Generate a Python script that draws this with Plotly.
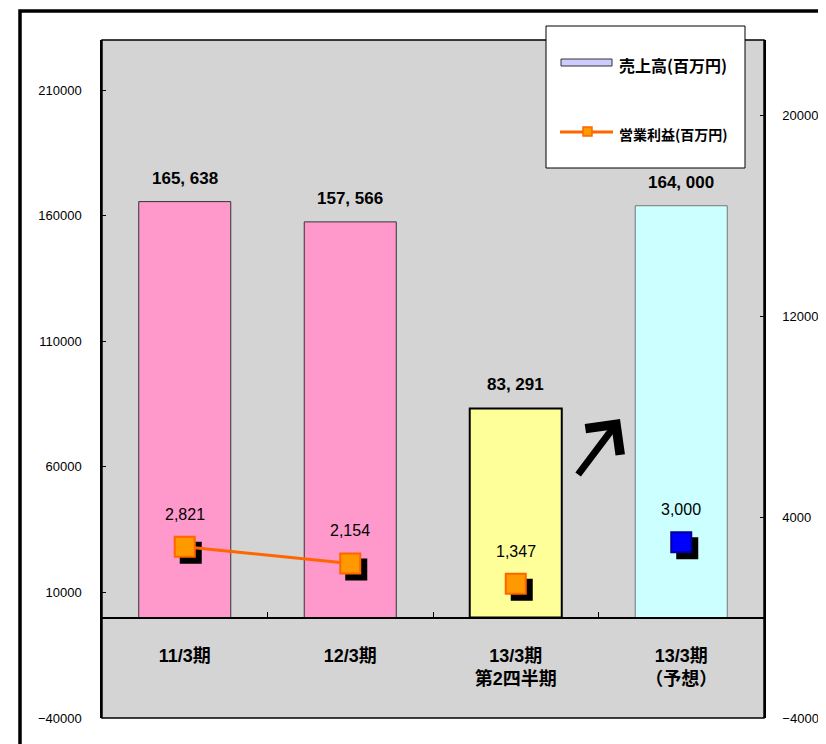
import plotly.graph_objects as go

# ---------------- data ----------------
categories = ["11/3期", "12/3期", "13/3期<br>第2四半期", "13/3期<br>（予想）"]
sales = [165638, 157566, 83291, 164000]          # 売上高(百万円)
profit = [2821, 2154, 1347, 3000]                 # 営業利益(百万円)
sales_name = "売上高(百万円)"
profit_name = "営業利益(百万円)"
left_range = [-40000, 230000]
right_range = [-4000, 23000]

bar_colors = ["#FF99CC", "#FF99CC", "#FFFF99", "#CCFFFF"]
bar_line_colors = ["#333333", "#333333", "#000000", "#777777"]
bar_line_widths = [1, 1, 2, 1]

OFF = 8  # page body margin
W, H = 826 - OFF, 744 - OFF
# plot area in page pixels: x 102..764, y 40..718 ; extra shadow band of SH px
SH = 6
ML, MT = 102 - OFF, 40 - OFF
PW, PH = 662 + SH, 678 + SH
MR, MB = W - ML - PW, H - MT - PH

def px(p):
    return (p - OFF - ML) / PW

def py(p):
    return 1 - (p - OFF - MT) / PH

main_xd = [0, (PW - SH) / PW]
main_yd = [SH / PH, 1]
shadow_xd = [SH / PW, 1]
shadow_yd = [0, (PH - SH) / PH]

zero_pos = main_yd[0] + (main_yd[1] - main_yd[0]) * (0 - left_range[0]) / (left_range[1] - left_range[0])

num_font = "Liberation Sans, Arial, sans-serif"
bold_num_font = "Liberation Sans, Noto Sans CJK JP, sans-serif"
cjk_font = "Noto Sans CJK JP, sans-serif"

fig = go.Figure()

# bars
fig.add_trace(go.Bar(
    x=categories, y=sales, name=sales_name, width=0.556,
    marker=dict(color=bar_colors, line=dict(color=bar_line_colors, width=bar_line_widths)),
    xaxis="x", yaxis="y", showlegend=False, hoverinfo="skip",
))

# marker shadows
fig.add_trace(go.Scatter(
    x=categories, y=profit, mode="markers",
    marker=dict(symbol="square", size=20, color="black", line=dict(color="black", width=2)),
    xaxis="x2", yaxis="y2", showlegend=False, hoverinfo="skip",
))

# profit line + markers (first two connected)
fig.add_trace(go.Scatter(
    x=categories[:2], y=profit[:2], mode="lines+markers", name=profit_name,
    line=dict(color="#FF6600", width=3),
    marker=dict(symbol="square", size=20, color="#FF9900", line=dict(color="#FF6600", width=2)),
    xaxis="x3", yaxis="y3", showlegend=False,
))
fig.add_trace(go.Scatter(
    x=categories[2:], y=profit[2:], mode="markers",
    marker=dict(symbol="square", size=20, color=["#FF9900", "#0000FF"],
                line=dict(color=["#FF6600", "#000099"], width=2)),
    xaxis="x3", yaxis="y3", showlegend=False,
))

annotations = []
# bar value labels
for c, v in zip(categories, sales):
    annotations.append(dict(
        x=c, y=v, xref="x", yref="y", text=f"{v:,}".replace(",", ", "),
        showarrow=False, yanchor="bottom", yshift=12,
        font=dict(family=bold_num_font, size=17, color="black", weight=700),
    ))
# profit labels
for c, v in zip(categories, profit):
    annotations.append(dict(
        x=c, y=v, xref="x3", yref="y3", text=f"{v:,}",
        showarrow=False, yanchor="bottom", yshift=22,
        font=dict(family=num_font, size=16, color="black"),
    ))
# arrow
annotations.append(dict(
    x=px(620), y=py(419), xref="paper", yref="paper", ax=-43, ay=57,
    showarrow=True, arrowhead=4, arrowsize=1.2, arrowwidth=7, arrowcolor="black", text="",
))
# legend texts
annotations.append(dict(
    x=px(617), y=py(65), xref="paper", yref="paper", text=sales_name, showarrow=False,
    xanchor="left", yanchor="middle",
    font=dict(family=cjk_font, size=16, color="black", weight=700),
))
annotations.append(dict(
    x=px(617), y=py(134), xref="paper", yref="paper", text=profit_name, showarrow=False,
    xanchor="left", yanchor="middle",
    font=dict(family=cjk_font, size=14, color="black", weight=700),
))

shapes = [
    # plot background
    dict(type="rect", xref="x domain", yref="y domain", x0=0, x1=1, y0=0, y1=1,
         fillcolor="#D4D4D4", line=dict(color="black", width=1.5), layer="below"),
    # outer frame
    dict(type="rect", xref="paper", yref="paper", x0=px(20), x1=px(900), y0=py(11), y1=py(900),
         fillcolor="rgba(0,0,0,0)", line=dict(color="black", width=3.5), layer="below"),
    # legend box
    dict(type="rect", xref="paper", yref="paper", x0=px(546), x1=px(745), y0=py(26), y1=py(168),
         fillcolor="white", line=dict(color="black", width=1), layer="above"),
    # legend symbol 1
    dict(type="rect", xref="paper", yref="paper", x0=px(561), x1=px(612), y0=py(59), y1=py(66),
         fillcolor="#CCCCFF", line=dict(color="#333333", width=1), layer="above"),
    # legend symbol 2
    dict(type="line", xref="paper", yref="paper", x0=px(560), x1=px(613), y0=py(132), y1=py(132),
         line=dict(color="#FF6600", width=3), layer="above"),
    dict(type="rect", xref="paper", yref="paper", x0=px(583), x1=px(592), y0=py(127), y1=py(136),
         fillcolor="#FF9900", line=dict(color="#FF6600", width=1.5), layer="above"),
]

fig.update_layout(
    width=W, height=H,
    margin=dict(l=ML, r=MR, t=MT, b=MB, autoexpand=False),
    paper_bgcolor="white", plot_bgcolor="rgba(0,0,0,0)",
    showlegend=False, bargap=0.4,
    annotations=annotations, shapes=shapes,
    xaxis=dict(domain=main_xd, type="category", range=[-0.5, 3.5], anchor="free", position=zero_pos,
               showline=True, linecolor="black", linewidth=1.5, ticks="inside", tickson="boundaries",
               ticklen=5, tickcolor="black", showgrid=False, ticklabelstandoff=22,
               tickfont=dict(family=bold_num_font, size=18, color="black", weight=700), fixedrange=True),
    yaxis=dict(domain=main_yd, range=left_range, tick0=-40000, dtick=50000, anchor="x",
               tickformat="d",
               showline=True, linecolor="black", linewidth=1.5, ticks="inside", ticklen=4,
               tickcolor="black", showgrid=False, zeroline=False, ticklabelstandoff=16,
               tickfont=dict(family=num_font, size=13, color="black"), fixedrange=True),
    xaxis2=dict(domain=shadow_xd, type="category", range=[-0.5, 3.5], anchor="y2", visible=False,
                categoryorder="array", categoryarray=categories, fixedrange=True),
    yaxis2=dict(domain=shadow_yd, range=right_range, anchor="x2", visible=False, fixedrange=True),
    xaxis3=dict(domain=main_xd, type="category", range=[-0.5, 3.5], anchor="y3", visible=False,
                categoryorder="array", categoryarray=categories, fixedrange=True),
    yaxis3=dict(domain=main_yd, range=right_range, anchor="x3", side="right", tick0=-4000, dtick=8000,
                tickformat="d",
                showline=True, linecolor="black", linewidth=1.5, ticks="inside", ticklen=4,
                tickcolor="black", showgrid=False, zeroline=False, ticklabelstandoff=14,
                tickfont=dict(family=num_font, size=13, color="black"), fixedrange=True),
)

fig.write_html("out.html")
